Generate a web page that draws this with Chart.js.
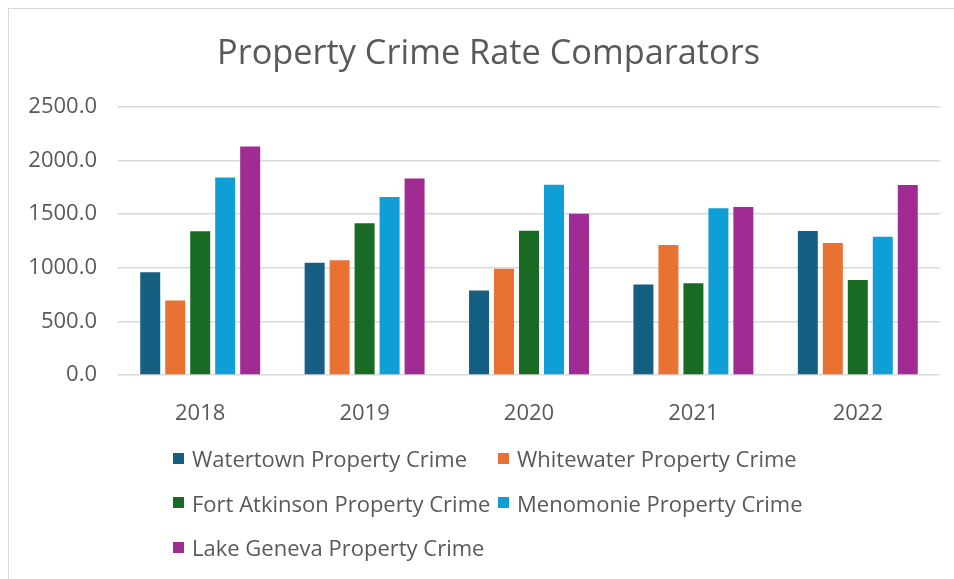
<!DOCTYPE html>
<html>
<head>
<meta charset="utf-8">
<script src="https://cdn.jsdelivr.net/npm/chart.js@4"></script>
<style>
  html, body { margin: 0; padding: 0; background: #fff; }
  #wrap { position: relative; width: 954px; height: 579px; overflow: hidden; background: #fff; }
  #frame { position: absolute; left: 8px; top: 8px; width: 960px; height: 600px;
           border-left: 1.5px solid #D9D9D9; border-top: 1.5px solid #D9D9D9; box-sizing: border-box; }
  canvas { position: absolute; left: 0; top: 0; }
  #legend { position: absolute; left: 173px; top: 436px; font-family: "Open Sans", sans-serif;
            font-size: 22px; color: #595959; }
  .row { display: flex; height: 44.5px; align-items: center; white-space: nowrap; }
  .item { display: flex; align-items: center; }
  .item.c1 { width: 325px; }
  .sw { width: 11px; height: 11px; margin-right: 8px; flex: none; }
</style>
</head>
<body>
<div id="wrap">
  <div id="frame"></div>
  <canvas id="c" width="954" height="579"></canvas>
  <div id="legend"></div>
</div>
<script>
const chartTitle = "Property Crime Rate Comparators";
const categories = ["2018", "2019", "2020", "2021", "2022"];
const seriesNames = [
  "Watertown Property Crime",
  "Whitewater Property Crime",
  "Fort Atkinson Property Crime",
  "Menomonie Property Crime",
  "Lake Geneva Property Crime"
];
const watertown    = [959, 1046, 788, 844, 1343];
const whitewater   = [695, 1071, 990, 1213, 1232];
const fortAtkinson = [1341, 1415, 1346, 857, 887];
const menomonie    = [1843, 1660, 1775, 1555, 1290];
const lakeGeneva   = [2132, 1834, 1505, 1567, 1772];
const yTicks = [0, 500, 1000, 1500, 2000, 2500];
const colors = ["#156082", "#E97132", "#196B24", "#0F9ED5", "#A02B93"];

const seriesValues = [watertown, whitewater, fortAtkinson, menomonie, lakeGeneva];
const FONT = '"Open Sans", sans-serif';
const TEXT = '#595959';

const datasets = seriesNames.map((name, i) => ({
  label: name,
  data: seriesValues[i],
  backgroundColor: colors[i],
  borderWidth: 0,
  categoryPercentage: 0.76,
  barPercentage: 0.8
}));

// Title drawn on the canvas, centred like the Excel chart title
const titlePlugin = {
  id: 'excelTitle',
  afterDraw(chart) {
    const ctx = chart.ctx;
    ctx.save();
    ctx.font = '34.3px ' + FONT;
    ctx.fillStyle = TEXT;
    ctx.textAlign = 'center';
    ctx.textBaseline = 'middle';
    ctx.fillText(chartTitle, 488.5, 54.6);
    ctx.restore();
  }
};

new Chart(document.getElementById('c'), {
  type: 'bar',
  data: { labels: categories, datasets },
  plugins: [titlePlugin],
  options: {
    responsive: false,
    animation: false,
    layout: { padding: { left: 0, right: 14, top: 107, bottom: 0 } },
    plugins: {
      legend: { display: false },
      tooltip: { enabled: false },
      title: { display: false }
    },
    scales: {
      x: {
        grid: { display: false },
        border: { display: false },
        ticks: { color: TEXT, font: { family: FONT, size: 22 }, padding: 18 },
        afterFit: (s) => { s.height = 204; }
      },
      y: {
        min: 0, max: 2500,
        afterBuildTicks: (s) => { s.ticks = yTicks.map(v => ({ value: v })); },
        ticks: {
          color: TEXT,
          font: { family: FONT, size: 22 },
          padding: 21,
          callback: (v) => Number(v).toFixed(1)
        },
        grid: { color: '#D9D9D9', lineWidth: 1.5, drawTicks: false },
        border: { display: false },
        afterFit: (s) => { s.width = 118; }
      }
    }
  }
});

// Legend (Excel-style, left-aligned rows of two)
const legend = document.getElementById('legend');
for (let i = 0; i < seriesNames.length; i += 2) {
  const row = document.createElement('div');
  row.className = 'row';
  for (let j = i; j < Math.min(i + 2, seriesNames.length); j++) {
    const it = document.createElement('div');
    it.className = 'item' + (j === i ? ' c1' : '');
    const sw = document.createElement('span');
    sw.className = 'sw';
    sw.style.background = colors[j];
    const tx = document.createElement('span');
    tx.textContent = seriesNames[j];
    it.appendChild(sw); it.appendChild(tx);
    row.appendChild(it);
  }
  legend.appendChild(row);
}
</script>
</body>
</html>
